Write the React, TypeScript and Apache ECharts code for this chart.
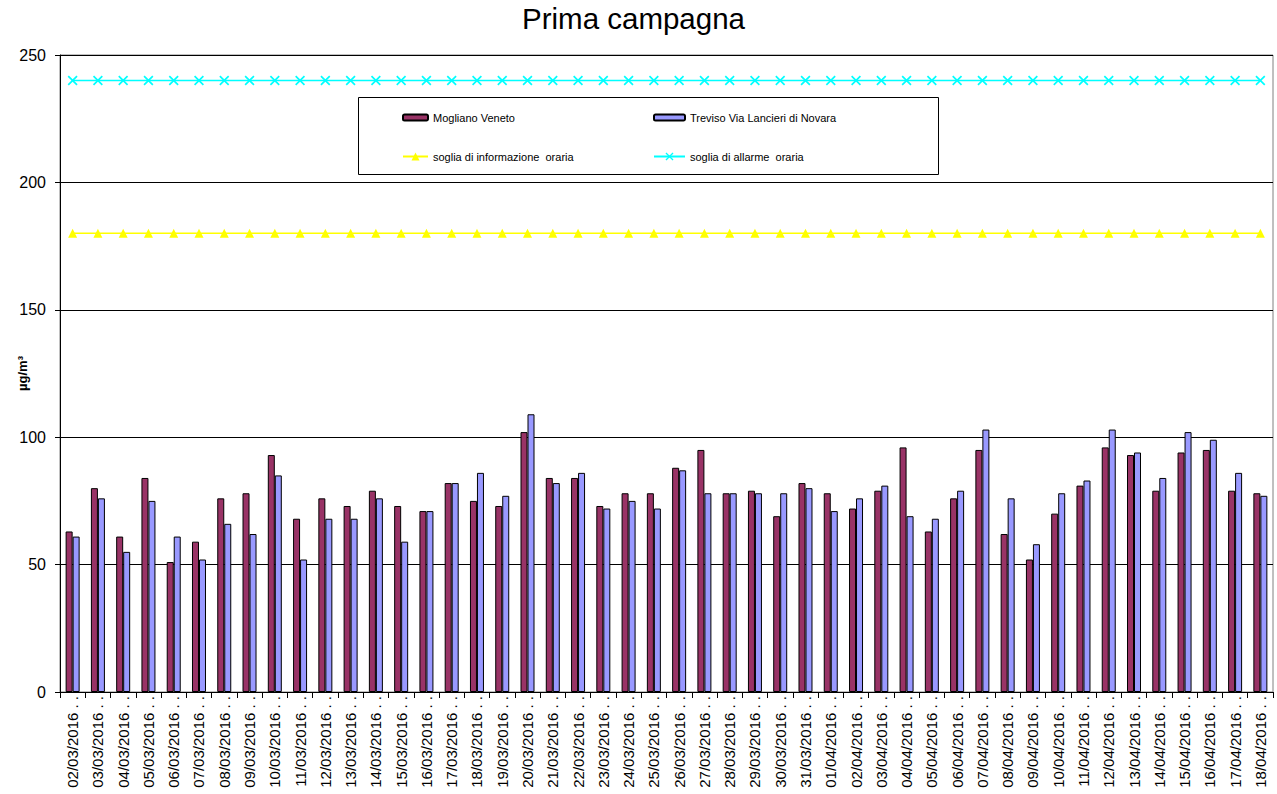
import React, { useEffect, useRef } from "react";
import * as echarts from "echarts";

const dates = [
  "02/03/2016", "03/03/2016", "04/03/2016", "05/03/2016", "06/03/2016", "07/03/2016",
  "08/03/2016", "09/03/2016", "10/03/2016", "11/03/2016", "12/03/2016", "13/03/2016",
  "14/03/2016", "15/03/2016", "16/03/2016", "17/03/2016", "18/03/2016", "19/03/2016",
  "20/03/2016", "21/03/2016", "22/03/2016", "23/03/2016", "24/03/2016", "25/03/2016",
  "26/03/2016", "27/03/2016", "28/03/2016", "29/03/2016", "30/03/2016", "31/03/2016",
  "01/04/2016", "02/04/2016", "03/04/2016", "04/04/2016", "05/04/2016", "06/04/2016",
  "07/04/2016", "08/04/2016", "09/04/2016", "10/04/2016", "11/04/2016", "12/04/2016",
  "13/04/2016", "14/04/2016", "15/04/2016", "16/04/2016", "17/04/2016", "18/04/2016",
];
const categories = dates.map((d) => d + " . .");

const mogliano = [
  63, 80, 61, 84, 51, 59, 76, 78, 93, 68, 76, 73, 79, 73, 71, 82,
  75, 73, 102, 84, 84, 73, 78, 78, 88, 95, 78, 79, 69, 82, 78, 72,
  79, 96, 63, 76, 95, 62, 52, 70, 81, 96, 93, 79, 94, 95, 79, 78,
];
const treviso = [
  61, 76, 55, 75, 61, 52, 66, 62, 85, 52, 68, 68, 76, 59, 71, 82,
  86, 77, 109, 82, 86, 72, 75, 72, 87, 78, 78, 78, 78, 80, 71, 76,
  81, 69, 68, 79, 103, 76, 58, 78, 83, 103, 94, 84, 102, 99, 86, 77,
];
const sogliaInfo = dates.map(() => 180);
const sogliaAllarme = dates.map(() => 240);

const yTicks = { min: 0, max: 250, interval: 50 };

const NAME_M = "Mogliano Veneto";
const NAME_T = "Treviso Via Lancieri di Novara";
const NAME_I = "soglia di informazione  oraria";
const NAME_A = "soglia di allarme  oraria";

const FONT = "Arial, 'Liberation Sans', sans-serif";
const xSymbol =
  "path://M0,1.2L1.2,0L5,3.8L8.8,0L10,1.2L6.2,5L10,8.8L8.8,10L5,6.2L1.2,10L0,8.8L3.8,5Z";

export default function App() {
  const ref = useRef<HTMLDivElement>(null);
  useEffect(() => {
    if (!ref.current) return;
    const chart = echarts.init(ref.current, undefined, { renderer: "svg" });
    const legendText = { fontSize: 11, fontFamily: FONT, color: "#000" };
    chart.setOption({
      animation: false,
      backgroundColor: "#fff",
      title: {
        text: "Prima campagna",
        left: 522,
        top: 3,
        padding: 0,
        textStyle: { fontSize: 29.5, fontWeight: "normal", fontFamily: FONT, color: "#000" },
      },
      grid: {
        left: 60,
        right: 4,
        top: 55,
        bottom: 102,
        outerBoundsMode: "none",
        containLabel: false,
        show: true,
        borderColor: "#808080",
        borderWidth: 1,
        backgroundColor: "transparent",
      },
      graphic: [
        {
          type: "rect",
          z: 5,
          shape: { x: 358.5, y: 97.5, width: 580, height: 77 },
          style: { fill: "#fff", stroke: "#000", lineWidth: 1 },
        },
      ],
      legend: [
        {
          left: 402, top: 112, z: 10, padding: 0, itemWidth: 25, itemHeight: 6, itemGap: 5,
          textStyle: legendText, data: [NAME_M],
        },
        {
          left: 653, top: 112, z: 10, padding: 0, itemWidth: 31, itemHeight: 6,
          textStyle: legendText, data: [NAME_T],
        },
        {
          left: 402, top: 151, z: 10, padding: 0, itemWidth: 25, itemHeight: 10,
          textStyle: legendText, data: [NAME_I],
        },
        {
          left: 653, top: 151, z: 10, padding: 0, itemWidth: 31, itemHeight: 10,
          textStyle: legendText, data: [NAME_A],
        },
      ],
      xAxis: {
        type: "category",
        data: categories,
        boundaryGap: true,
        axisLine: { lineStyle: { color: "#000", width: 1 } },
        axisTick: { show: true, length: 6, lineStyle: { color: "#000" } },
        axisLabel: {
          rotate: 90,
          interval: 0,
          fontSize: 15,
          fontFamily: FONT,
          color: "#000",
          margin: 4,
        },
      },
      yAxis: {
        type: "value",
        min: yTicks.min,
        max: yTicks.max,
        interval: yTicks.interval,
        name: "µg/m³",
        nameLocation: "middle",
        nameGap: 31,
        nameMoveOverlap: false,
        nameRotate: 90,
        nameTextStyle: { fontSize: 13, fontWeight: "bold", fontFamily: FONT, color: "#000" },
        axisLine: { show: true, lineStyle: { color: "#000", width: 1 } },
        axisTick: { show: true, length: 5, lineStyle: { color: "#000" } },
        axisLabel: { fontSize: 16, fontFamily: FONT, color: "#000", margin: 14 },
        splitLine: { show: true, lineStyle: { color: "#000", width: 1 } },
      },
      series: [
        {
          name: NAME_M,
          type: "bar",
          data: mogliano,
          barWidth: 7,
          barGap: "0%",
          itemStyle: { color: "#993366", borderColor: "#000", borderWidth: 1 },
        },
        {
          name: NAME_T,
          type: "bar",
          data: treviso,
          barWidth: 7,
          barGap: "0%",
          itemStyle: { color: "#9999FF", borderColor: "#000", borderWidth: 1 },
        },
        {
          name: NAME_I,
          type: "line",
          data: sogliaInfo,
          symbol: "triangle",
          symbolSize: 9,
          lineStyle: { color: "#FFFF00", width: 1.5 },
          itemStyle: { color: "#FFFF00" },
        },
        {
          name: NAME_A,
          type: "line",
          data: sogliaAllarme,
          symbol: xSymbol,
          symbolSize: 10,
          lineStyle: { color: "#00FFFF", width: 1.5 },
          itemStyle: { color: "#00FFFF" },
        },
      ],
    });
    return () => chart.dispose();
  }, []);
  return <div ref={ref} style={{ width: 1277, height: 794, position: "absolute", left: 0, top: 0 }} />;
}
